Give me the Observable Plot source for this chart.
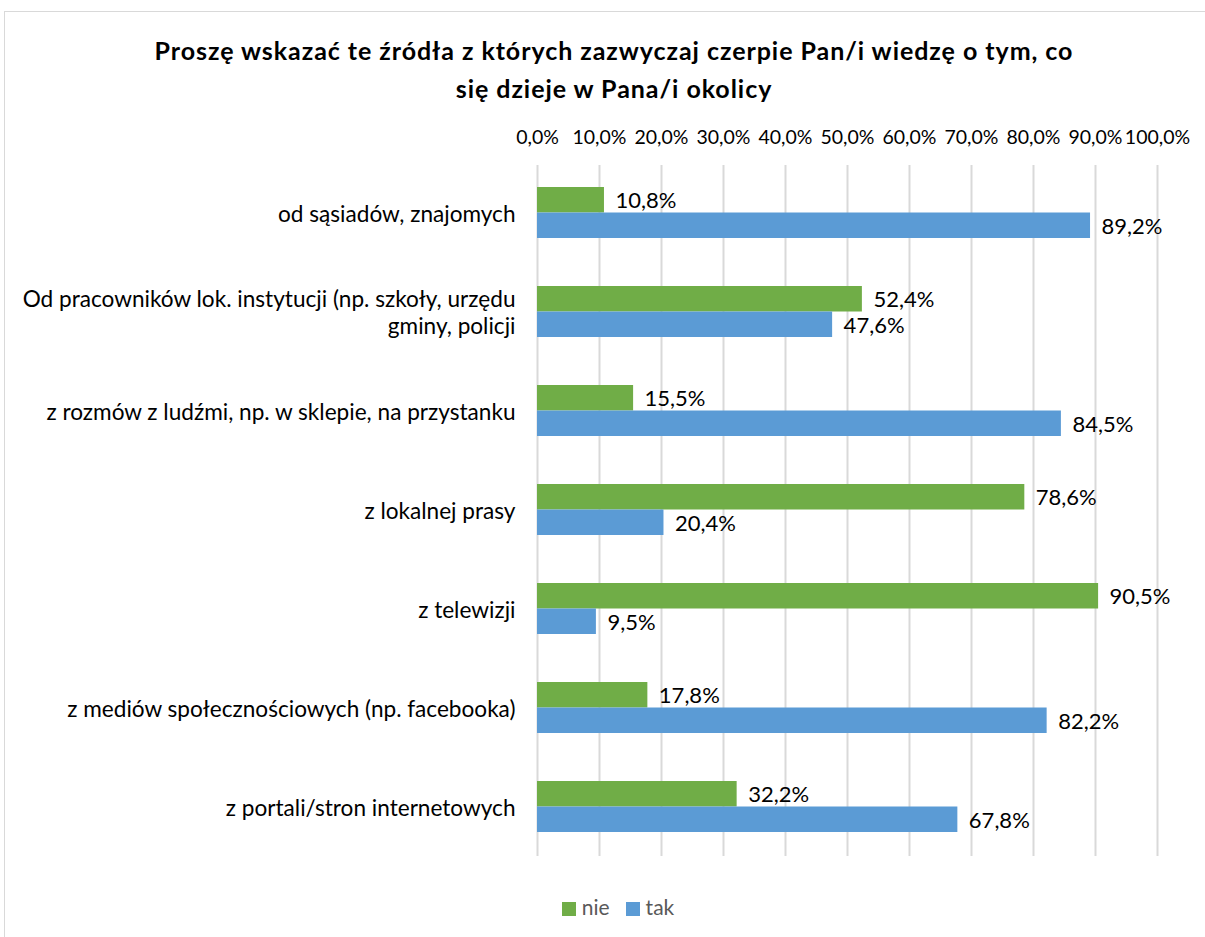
<!DOCTYPE html>
<html>
<head>
<meta charset="utf-8">
<script src="https://cdn.jsdelivr.net/npm/d3@7"></script>
<script src="https://cdn.jsdelivr.net/npm/@observablehq/plot@0.6"></script>
<style>
  html, body { margin: 0; padding: 0; background: #fff; }
  #wrap { position: relative; width: 1205px; height: 937px; overflow: hidden; font-family: Lato, "Open Sans", sans-serif; }
  #frame { position: absolute; left: 4px; top: 11px; width: 1230px; height: 940px; border: 1px solid #d9d9d9; box-sizing: border-box; }
  #title { position: absolute; left: 4px; width: 1220px; top: 31px; text-align: center; font-weight: bold; font-size: 25px; letter-spacing: 0.95px; line-height: 38px; color: #000; }
  #chart { position: absolute; left: 0; top: 100px; }
  #legend { position: absolute; top: 894px; left: 0; width: 1236px; text-align: center; font-size: 21px; color: #595959; }
  #legend span.sw { display: inline-block; width: 14px; height: 14px; margin-right: 6px; vertical-align: -1px; }
  #legend span.it { margin: 0 8px; }
</style>
</head>
<body>
<div id="wrap">
  <div id="frame"></div>
  <div id="title">Proszę wskazać te źródła z których zazwyczaj czerpie Pan/i wiedzę o tym, co<br>się dzieje w Pana/i okolicy</div>
  <div id="chart"></div>
  <div id="legend"></div>
</div>
<script>
const categories = [
  "od sąsiadów, znajomych",
  "Od pracowników lok. instytucji (np. szkoły, urzędu\ngminy, policji",
  "z rozmów z ludźmi, np. w sklepie, na przystanku",
  "z lokalnej prasy",
  "z telewizji",
  "z mediów społecznościowych (np. facebooka)",
  "z portali/stron internetowych"
];
const nie = [10.8, 52.4, 15.5, 78.6, 90.5, 17.8, 32.2];
const tak = [89.2, 47.6, 84.5, 20.4, 9.5, 82.2, 67.8];
const seriesNames = ["nie", "tak"];
const seriesColors = ["#70ad47", "#5b9bd5"];
const xTicks = [0, 10, 20, 30, 40, 50, 60, 70, 80, 90, 100];

const fmt = v => v.toFixed(1).replace(".", ",") + "%";
const rowsNie = categories.map((c, i) => ({cat: c, value: nie[i], series: "nie"}));
const rowsTak = categories.map((c, i) => ({cat: c, value: tak[i], series: "tak"}));

const chart = Plot.plot({
  width: 1205,
  height: 770,
  marginLeft: 537,
  marginRight: 48,
  marginTop: 63,
  marginBottom: 14,
  style: {fontFamily: "Lato, 'Open Sans', sans-serif", fontSize: "21px", color: "#000", background: "transparent"},
  x: {domain: [0, 100], axis: null, label: null},
  y: {domain: categories, padding: 0, axis: null, label: null},
  color: {domain: seriesNames, range: seriesColors},
  marks: [
    Plot.gridX(xTicks, {stroke: "#d9d9d9", strokeOpacity: 1, strokeWidth: 2, insetTop: 2}),
    Plot.axisX(xTicks, {anchor: "top", label: null, tickSize: 0, tickPadding: 20, tickFormat: fmt, fontSize: 19.5, fill: "#000"}),
    Plot.axisY({anchor: "left", label: null, tickSize: 0, tickPadding: 22, fontSize: 22.6, fill: "#000", lineHeight: 1.2}),
    Plot.barX(rowsNie, {x: "value", y: "cat", fill: "series", insetTop: 24, insetBottom: 49.5}),
    Plot.barX(rowsTak, {x: "value", y: "cat", fill: "series", insetTop: 49.5, insetBottom: 24}),
    Plot.text(rowsNie, {x: "value", y: "cat", text: d => fmt(d.value), dy: -12, dx: 11, textAnchor: "start", fontSize: 22, fill: "#000"}),
    Plot.text(rowsTak, {x: "value", y: "cat", text: d => fmt(d.value), dy: 14, dx: 11, textAnchor: "start", fontSize: 22, fill: "#000"})
  ]
});
document.getElementById("chart").appendChild(chart);

const legend = document.getElementById("legend");
seriesNames.forEach((s, i) => {
  const it = document.createElement("span");
  it.className = "it";
  const sw = document.createElement("span");
  sw.className = "sw";
  sw.style.background = seriesColors[i];
  it.appendChild(sw);
  it.appendChild(document.createTextNode(s));
  legend.appendChild(it);
});
</script>
</body>
</html>
